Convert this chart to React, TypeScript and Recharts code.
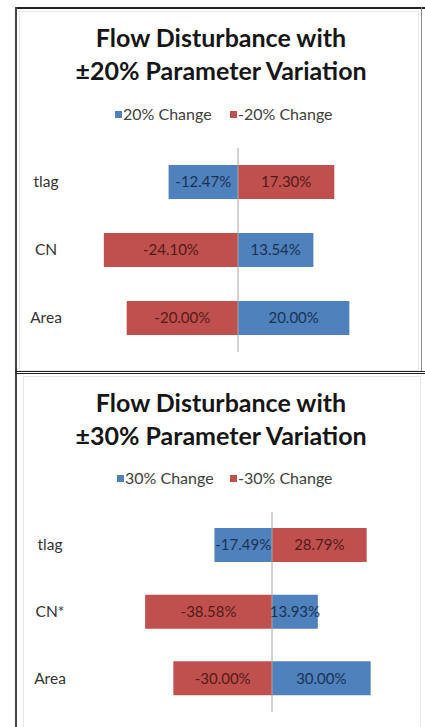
import React from 'react';
import { BarChart, Bar, XAxis, YAxis, ReferenceLine, LabelList } from 'recharts';

// ---- Data ----
const categories20 = ['tlag', 'CN', 'Area'];
const plus20 = [-12.47, 13.54, 20.0];
const minus20 = [17.3, -24.1, -20.0];
const legend20 = ['20% Change', '-20% Change'];
const title20 = ['Flow Disturbance with', '\u00B120% Parameter Variation'];

const categories30 = ['tlag', 'CN*', 'Area'];
const plus30 = [-17.49, 13.93, 30.0];
const minus30 = [28.79, -38.58, -30.0];
const legend30 = ['30% Change', '-30% Change'];
const title30 = ['Flow Disturbance with', '\u00B130% Parameter Variation'];

const BLUE = '#4F81BD';
const RED = '#C0504D';
const FONT = 'Lato, "Open Sans", sans-serif';

type TornadoProps = {
  top: number;
  height: number;
  categories: string[];
  pos: number[];
  neg: number[];
  legend: string[];
  title: string[];
  titleBaselines: number[];
  legendBaseline: number;
  legendX: number[];
  domain: [number, number];
  yAxisWidth: number;
  marginTop: number;
  marginRight: number;
  marginBottom: number;
  tickX: number;
};

const fmt = (v: any) => `${Number(v).toFixed(2)}%`;

function Tornado(p: TornadoProps) {
  const rows = p.categories.map((c, i) => ({ name: c, pos: p.pos[i], neg: p.neg[i] }));
  const CatTick = (props: any) => (
    <text
      x={p.tickX}
      y={props.y}
      dy={5}
      textAnchor="middle"
      fontFamily={FONT}
      fontSize={15.5}
      fill="#333"
    >
      {props.payload.value}
    </text>
  );
  return (
    <div style={{ position: 'absolute', left: 0, top: p.top, width: 425, height: p.height }}>
      <svg
        width={425}
        height={p.height}
        style={{ position: 'absolute', left: 0, top: 0 }}
      >
        {p.title.map((t, i) => (
          <text
            key={i}
            x={221}
            y={p.titleBaselines[i]}
            textAnchor="middle"
            fontFamily={FONT}
            fontWeight={700}
            fontSize={25}
            fill="#161616"
          >
            {t}
          </text>
        ))}
        <rect x={p.legendX[0]} y={p.legendBaseline - 9} width={7} height={7} fill={BLUE} />
        <text x={p.legendX[0] + 8} y={p.legendBaseline} fontFamily={FONT} fontSize={16} fill="#404040">
          {p.legend[0]}
        </text>
        <rect x={p.legendX[1]} y={p.legendBaseline - 9} width={7} height={7} fill={RED} />
        <text x={p.legendX[1] + 8} y={p.legendBaseline} fontFamily={FONT} fontSize={16} fill="#404040">
          {p.legend[1]}
        </text>
      </svg>
      <div style={{ position: 'absolute', left: 0, top: 0 }}>
        <BarChart
          width={425}
          height={p.height}
          data={rows}
          layout="vertical"
          stackOffset="sign"
          margin={{ top: p.marginTop, right: p.marginRight, bottom: p.marginBottom, left: 0 }}
        >
          <XAxis type="number" domain={p.domain} hide allowDataOverflow />
          <YAxis
            type="category"
            dataKey="name"
            width={p.yAxisWidth}
            axisLine={false}
            tickLine={false}
            tick={CatTick}
          />
          <Bar dataKey="pos" stackId="s" fill={BLUE} barSize={34} isAnimationActive={false}>
            <LabelList
              dataKey="pos"
              position="center"
              formatter={fmt}
              fill="#1B3153"
              fontFamily={FONT}
              fontSize={15}
            />
          </Bar>
          <Bar dataKey="neg" stackId="s" fill={RED} barSize={34} isAnimationActive={false}>
            <LabelList
              dataKey="neg"
              position="center"
              formatter={fmt}
              fill="#521B1A"
              fontFamily={FONT}
              fontSize={15}
            />
          </Bar>
          <ReferenceLine x={0} stroke="#A6A6A6" strokeWidth={1} />
        </BarChart>
      </div>
    </div>
  );
}

export default function App() {
  return (
    <div
      style={{
        position: 'absolute',
        left: 0,
        top: 0,
        width: 425,
        height: 727,
        background: '#fff',
        overflow: 'hidden',
      }}
    >
      <Tornado
        top={0}
        height={372}
        categories={categories20}
        pos={plus20}
        neg={minus20}
        legend={legend20}
        title={title20}
        titleBaselines={[47, 80]}
        legendBaseline={120}
        legendX={[115, 230]}
        domain={[-30, 30]}
        yAxisWidth={71}
        marginTop={148}
        marginRight={20}
        marginBottom={20}
        tickX={46}
      />
      <Tornado
        top={372}
        height={355}
        categories={categories30}
        pos={plus30}
        neg={minus30}
        legend={legend30}
        title={title30}
        titleBaselines={[40, 73]}
        legendBaseline={112}
        legendX={[117, 230]}
        domain={[-45, 45]}
        yAxisWidth={124}
        marginTop={140}
        marginRight={5}
        marginBottom={15}
        tickX={50}
      />
      {/* frames */}
      <div style={{ position: 'absolute', left: 15, top: 7, width: 410, height: 2, background: '#222' }} />
      <div style={{ position: 'absolute', left: 15, top: 7, width: 2, height: 720, background: '#444' }} />
      <div style={{ position: 'absolute', left: 421, top: 7, width: 1, height: 365, background: '#888' }} />
      <div style={{ position: 'absolute', left: 19, top: 11, width: 398, height: 358, border: '1px solid #e6e6e6' }} />
      <div style={{ position: 'absolute', left: 15, top: 371, width: 410, height: 1, background: '#222' }} />
      <div style={{ position: 'absolute', left: 15, top: 373, width: 410, height: 1, background: '#222' }} />
      <div style={{ position: 'absolute', left: 23, top: 376, width: 396, height: 360, border: '1px solid #e6e6e6' }} />
    </div>
  );
}
